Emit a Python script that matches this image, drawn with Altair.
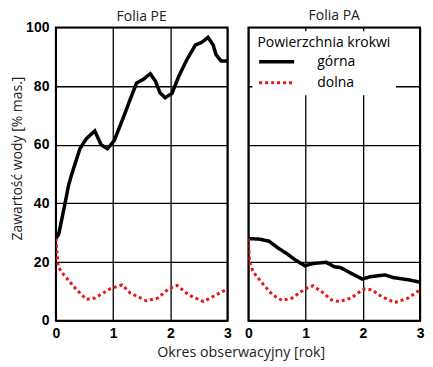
import altair as alt
import pandas as pd

# ---- data ----
series_names = ["górna", "dolna"]
panels = ["Folia PE", "Folia PA"]

pe_top_t = [0.0, 0.05, 0.16, 0.22, 0.27, 0.42, 0.53, 0.68, 0.79, 0.9, 1.02, 1.19, 1.3, 1.41,
            1.53, 1.65, 1.74, 1.82, 1.91, 2.03, 2.15, 2.29, 2.44, 2.55, 2.66, 2.75, 2.8, 2.89, 3.0]
pe_top_v = [28, 29.5, 40, 46, 49.5, 58.6, 62, 64.7, 60, 58.6, 61.4, 69.8, 75.5, 81,
            82.3, 84.2, 81.7, 77.7, 76, 77.5, 83.4, 89, 94, 94.9, 96.6, 94, 90.7, 88.5, 88.5]

pe_bot_t = [0.0, 0.04, 0.14, 0.34, 0.53, 0.68, 0.96, 1.16, 1.3, 1.58, 1.78, 1.98, 2.12,
            2.32, 2.58, 2.8, 3.0]
pe_bot_v = [28, 18.4, 15.6, 11, 7.3, 7.7, 11, 12.2, 9.4, 6.8, 7.7, 11, 12, 8.8, 6.5, 8.8, 10.8]

pa_top_t = [0.0, 0.19, 0.36, 0.53, 0.67, 0.82, 0.99, 1.13, 1.36, 1.5, 1.61, 1.79, 1.99,
            2.13, 2.39, 2.53, 2.81, 3.0]
pa_top_v = [28, 27.8, 27.1, 24.6, 22.9, 20.7, 18.7, 19.5, 19.9, 18.4, 18.1, 16.2, 14.2,
            15, 15.6, 14.7, 13.9, 13.1]

pa_bot_t = [0.0, 0.02, 0.08, 0.22, 0.42, 0.59, 0.76, 0.99, 1.13, 1.28, 1.45, 1.59, 1.79,
            2.02, 2.16, 2.33, 2.56, 2.79, 3.0]
pa_bot_v = [28, 20, 16.7, 13.3, 8.8, 6.9, 7.7, 10.8, 11.9, 9.9, 7.1, 6.5, 7.7, 10.8,
            10.5, 8.2, 6.2, 7.7, 10.5]

y_ticks = [0, 20, 40, 60, 80, 100]
x_ticks = [0, 1, 2, 3]


def frame(panel, series, ts, vs):
    return pd.DataFrame({"panel": panel, "series": series, "t": ts, "v": vs})


df_pe = pd.concat([frame(panels[0], series_names[0], pe_top_t, pe_top_v),
                   frame(panels[0], series_names[1], pe_bot_t, pe_bot_v)])
df_pa = pd.concat([frame(panels[1], series_names[0], pa_top_t, pa_top_v),
                   frame(panels[1], series_names[1], pa_bot_t, pa_bot_v)])

LABEL_FONT = "Liberation Sans"
TEXT_FONT = "Open Sans"
W, H = 172, 294

color_scale = alt.Scale(domain=series_names, range=["#000000", "#e8141b"])
dash_scale = alt.Scale(domain=series_names, range=[[1, 0], [3, 3]])
width_scale = alt.Scale(domain=series_names, range=[3.5, 3])


def panel_chart(df, title, left, show_legend):
    xaxis = alt.Axis(values=x_ticks, title=None, grid=True, ticks=False, domain=False,
                     labelFont=LABEL_FONT, labelFontWeight="bold", labelFontSize=14,
                     labelColor="black", labelPadding=6, gridColor="black",
                     gridWidth=1.3, gridOpacity=1, labelFlush=False)
    if left:
        yaxis = alt.Axis(values=y_ticks, title="Zawartość wody [% mas.]", grid=True,
                         ticks=False, domain=False, labelFont=LABEL_FONT,
                         labelFontWeight="bold", labelFontSize=14, labelColor="black",
                         labelPadding=7, gridColor="black", gridWidth=1.3, gridOpacity=1,
                         titleFont=TEXT_FONT, titleFontWeight="normal", titleFontSize=14,
                         titleColor="#222222", titlePadding=1, titleY=131)
    else:
        yaxis = alt.Axis(values=y_ticks, title=None, labels=False, grid=True, ticks=False,
                         domain=False, gridColor="black", gridWidth=1.3, gridOpacity=1)
    if show_legend:
        legend = alt.Legend(title="Powierzchnia krokwi", orient="none", legendX=4,
                            legendY=4, fillColor="white", padding=5,
                            symbolType="M-1,0H2.6", symbolSize=380, symbolStrokeWidth=3,
                            titleFont=TEXT_FONT, titleFontWeight="normal", titleFontSize=14,
                            titleColor="black", labelFont=TEXT_FONT, labelFontSize=14,
                            labelColor="black", labelOffset=37, rowPadding=2,
                            titlePadding=0, titleLimit=300)
    else:
        legend = None
    return alt.Chart(df).mark_line(strokeCap="butt", clip=True).encode(
        x=alt.X("t:Q", scale=alt.Scale(domain=[0, 3], nice=False), axis=xaxis),
        y=alt.Y("v:Q", scale=alt.Scale(domain=[0, 100], nice=False), axis=yaxis),
        color=alt.Color("series:N", scale=color_scale, legend=legend),
        strokeDash=alt.StrokeDash("series:N", scale=dash_scale, legend=legend),
        strokeWidth=alt.StrokeWidth("series:N", scale=width_scale, legend=None),
        detail="series:N",
    ).properties(
        width=W, height=H,
        title=alt.TitleParams(title, font=TEXT_FONT, fontSize=14, fontWeight="normal",
                              color="#222222", offset=-4 if left else 4),
    )


left = panel_chart(df_pe, panels[0], True, False)
right = panel_chart(df_pa, panels[1], False, True)

chart = alt.hconcat(left, right, spacing=11).resolve_scale(
    color="independent", strokeDash="independent", strokeWidth="independent"
).resolve_legend(color="independent", strokeDash="independent").properties(
    padding={"left": 1, "top": 0, "right": 0, "bottom": 0},
    title=alt.TitleParams("Okres obserwacyjny [rok]", orient="bottom", anchor="middle",
                          font=TEXT_FONT, fontSize=14.3, fontWeight="normal",
                          color="#222222", dx=24, offset=4),
).configure_view(stroke="black", strokeWidth=2)

chart.save("out.html", embed_options={"renderer": "svg", "actions": False})
